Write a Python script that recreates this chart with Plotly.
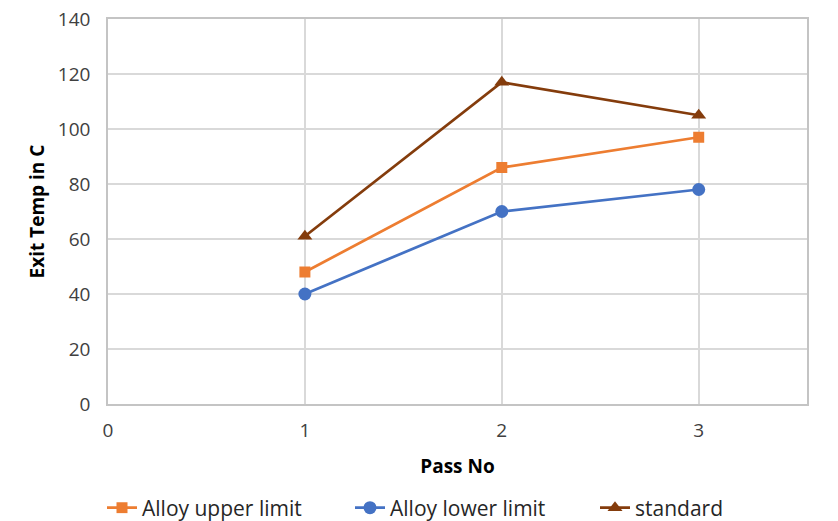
import plotly.graph_objects as go

passes = [1, 2, 3]
upper = [48, 86, 97]
lower = [40, 70, 78]
standard = [61, 117, 105]

x_ticks = [0, 1, 2, 3]
y_ticks = [0, 20, 40, 60, 80, 100, 120, 140]

font_family = "Open Sans, Noto Sans, sans-serif"

fig = go.Figure()
fig.add_trace(go.Scatter(x=passes, y=upper, mode="lines+markers", name="Alloy upper limit",
                         legend="legend",
                         line=dict(color="#ED7D31", width=2.75),
                         marker=dict(symbol="square", size=11, color="#ED7D31")))
fig.add_trace(go.Scatter(x=passes, y=lower, mode="lines+markers", name="Alloy lower limit",
                         legend="legend2",
                         line=dict(color="#4472C4", width=2.75),
                         marker=dict(symbol="circle", size=13, color="#4472C4")))
fig.add_trace(go.Scatter(x=passes, y=standard, mode="lines+markers", name="standard",
                         legend="legend3",
                         line=dict(color="#843C0C", width=2.75),
                         marker=dict(symbol="triangle-up", size=13, color="#843C0C")))

def leg(xpx):
    return dict(orientation="h", xref="container", yref="container",
                x=xpx / 838, xanchor="left", y=0.025, yanchor="middle",
                font=dict(size=21, color="#262626"), bgcolor="rgba(0,0,0,0)")

fig.update_layout(
    width=838, height=521,
    margin=dict(l=108, r=31, t=19, b=117),
    paper_bgcolor="white", plot_bgcolor="white",
    font=dict(family=font_family, size=19, color="#404040"),
    showlegend=True,
    legend=leg(102), legend2=leg(350), legend3=leg(595),
    xaxis=dict(range=[0, 3.55], tickvals=x_ticks, ticktext=[str(v) for v in x_ticks],
               automargin=False,
               showgrid=True, gridcolor="#d9d9d9", gridwidth=1.5,
               showline=True, linecolor="#c4c4c4", linewidth=1.5, mirror=True,
               zeroline=False, ticks="", ticklabelstandoff=8,
               title=dict(text="<b>Pass No</b>", font=dict(size=19, color="#000000"), standoff=18)),
    yaxis=dict(range=[0, 140], tickvals=y_ticks, ticktext=[str(v) for v in y_ticks],
               automargin=False,
               showgrid=True, gridcolor="#d9d9d9", gridwidth=1.5,
               showline=True, linecolor="#c4c4c4", linewidth=1.5, mirror=True,
               zeroline=False, ticks="", ticklabelstandoff=12,
               title=dict(text="<b>Exit Temp in C</b>", font=dict(size=19, color="#000000"), standoff=8)),
)

fig.write_html("out.html")
